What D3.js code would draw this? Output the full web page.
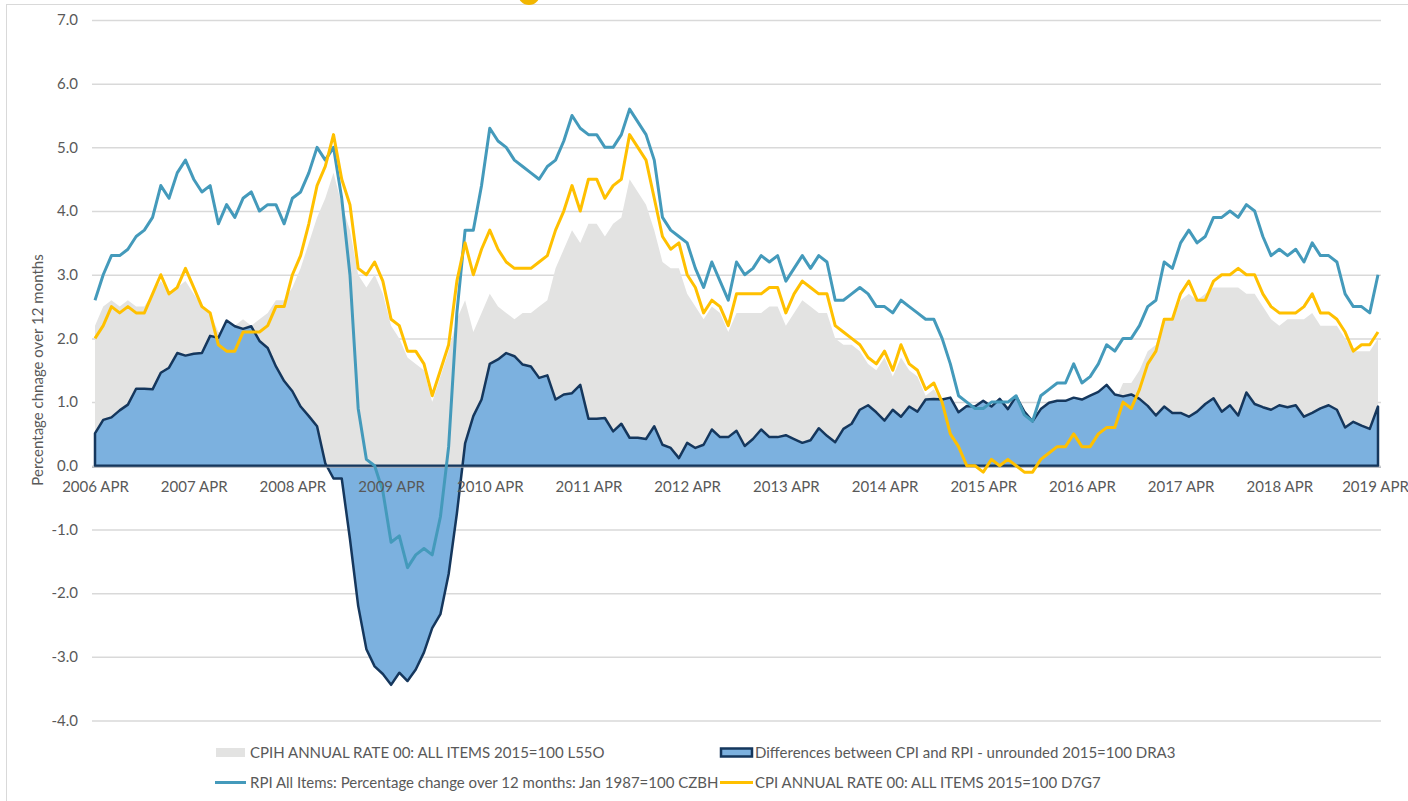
<!DOCTYPE html>
<html lang="en">
<head>
<meta charset="UTF-8">
<title>CPI, CPIH and RPI annual rates</title>
<script src="https://d3js.org/d3.v7.min.js"></script>
<style>
    body { margin: 0; background: #fff; }
    text { font-family: Lato, "Open Sans", sans-serif; fill: #595959; }
    .grid line { stroke: #d9d9d9; stroke-width: 1.5px; }
    .grid path { display: none; }
    .xaxis path, .xaxis line { display: none; }
    .legend text { font-size: 15px; }
</style>
</head>
<body>
<script>
// monthly categories, 2006 APR .. 2019 APR
const months = d3.timeMonth.range(new Date(2006, 3, 1), new Date(2019, 4, 1));
const xLabels = ["2006 APR", "2007 APR", "2008 APR", "2009 APR", "2010 APR", "2011 APR", "2012 APR",
    "2013 APR", "2014 APR", "2015 APR", "2016 APR", "2017 APR", "2018 APR", "2019 APR"];
const yTicks = [-4, -3, -2, -1, 0, 1, 2, 3, 4, 5, 6, 7];

// CPIH annual rate (grey area)
const cpih = [
    2.2, 2.5, 2.6, 2.5, 2.6, 2.5, 2.5, 2.7, 2.9,
    2.7, 2.8, 2.9, 2.7, 2.5, 2.4, 2.1, 2.1, 2.2, 2.3, 2.2, 2.3,
    2.4, 2.6, 2.6, 2.8, 3.1, 3.5, 3.9, 4.2, 4.6, 4.1, 3.7, 3.0,
    2.8, 3.0, 2.7, 2.2, 2.0, 1.7, 1.6, 1.5, 1.0, 1.4, 1.8, 2.3,
    2.6, 2.1, 2.4, 2.7, 2.5, 2.4, 2.3, 2.4, 2.4, 2.5, 2.6, 3.1,
    3.4, 3.7, 3.5, 3.8, 3.8, 3.6, 3.8, 3.9, 4.5, 4.3, 4.1, 3.7,
    3.2, 3.1, 3.1, 2.7, 2.5, 2.3, 2.5, 2.4, 2.1, 2.4, 2.4, 2.4,
    2.4, 2.5, 2.5, 2.2, 2.4, 2.6, 2.5, 2.4, 2.4, 2.0, 1.9, 1.9,
    1.8, 1.6, 1.5, 1.7, 1.4, 1.7, 1.5, 1.4, 1.1, 1.2, 1.0, 0.7,
    0.5, 0.3, 0.3, 0.2, 0.4, 0.3, 0.4, 0.4, 0.3, 0.3, 0.5, 0.6,
    0.6, 0.7, 0.9, 0.7, 0.7, 0.8, 0.9, 1.0, 1.3, 1.3, 1.5, 1.8,
    1.9, 2.3, 2.3, 2.6, 2.7, 2.6, 2.7, 2.8, 2.8, 2.8, 2.8, 2.7,
    2.7, 2.5, 2.3, 2.2, 2.3, 2.3, 2.3, 2.4, 2.2, 2.2, 2.2, 2.0,
    1.8, 1.8, 1.8, 2.0
];

// Differences between CPI and RPI, unrounded (blue area)
const diff = [
    0.51, 0.72, 0.76, 0.87, 0.96, 1.21, 1.21, 1.20, 1.46,
    1.54, 1.77, 1.73, 1.76, 1.77, 2.04, 2.01, 2.28, 2.19, 2.15, 2.19, 1.96,
    1.85, 1.56, 1.33, 1.17, 0.93, 0.78, 0.62, 0.04, -0.20, -0.20, -1.15, -2.20,
    -2.88, -3.15, -3.27, -3.44, -3.25, -3.38, -3.20, -2.93, -2.55, -2.33, -1.70, -0.75,
    0.35, 0.78, 1.04, 1.60, 1.67, 1.77, 1.72, 1.59, 1.56, 1.38, 1.42, 1.04,
    1.12, 1.14, 1.27, 0.74, 0.74, 0.75, 0.54, 0.66, 0.44, 0.44, 0.42, 0.62,
    0.33, 0.28, 0.12, 0.36, 0.28, 0.33, 0.57, 0.45, 0.45, 0.55, 0.31, 0.42,
    0.57, 0.45, 0.45, 0.48, 0.42, 0.36, 0.40, 0.59, 0.47, 0.37, 0.58, 0.66,
    0.88, 0.95, 0.84, 0.71, 0.88, 0.77, 0.93, 0.85, 1.04, 1.05, 1.04, 1.07,
    0.84, 0.94, 0.93, 1.02, 0.93, 1.05, 0.89, 1.09, 0.85, 0.70, 0.89, 0.99,
    1.02, 1.02, 1.07, 1.04, 1.10, 1.16, 1.27, 1.12, 1.09, 1.12, 1.05, 0.94,
    0.79, 0.93, 0.83, 0.83, 0.77, 0.85, 0.97, 1.06, 0.85, 0.95, 0.79, 1.15,
    0.97, 0.92, 0.88, 0.95, 0.92, 0.95, 0.77, 0.83, 0.90, 0.95, 0.88, 0.60,
    0.69, 0.63, 0.58, 0.93
];

// RPI all items, % change over 12 months
const rpi = [
    2.6, 3.0, 3.3, 3.3, 3.4, 3.6, 3.7, 3.9, 4.4,
    4.2, 4.6, 4.8, 4.5, 4.3, 4.4, 3.8, 4.1, 3.9, 4.2, 4.3, 4.0,
    4.1, 4.1, 3.8, 4.2, 4.3, 4.6, 5.0, 4.8, 5.0, 4.2, 3.0, 0.9,
    0.1, 0.0, -0.4, -1.2, -1.1, -1.6, -1.4, -1.3, -1.4, -0.8, 0.3, 2.4,
    3.7, 3.7, 4.4, 5.3, 5.1, 5.0, 4.8, 4.7, 4.6, 4.5, 4.7, 4.8,
    5.1, 5.5, 5.3, 5.2, 5.2, 5.0, 5.0, 5.2, 5.6, 5.4, 5.2, 4.8,
    3.9, 3.7, 3.6, 3.5, 3.1, 2.8, 3.2, 2.9, 2.6, 3.2, 3.0, 3.1,
    3.3, 3.2, 3.3, 2.9, 3.1, 3.3, 3.1, 3.3, 3.2, 2.6, 2.6, 2.7,
    2.8, 2.7, 2.5, 2.5, 2.4, 2.6, 2.5, 2.4, 2.3, 2.3, 2.0, 1.6,
    1.1, 1.0, 0.9, 0.9, 1.0, 1.0, 1.0, 1.1, 0.8, 0.7, 1.1, 1.2,
    1.3, 1.3, 1.6, 1.3, 1.4, 1.6, 1.9, 1.8, 2.0, 2.0, 2.2, 2.5,
    2.6, 3.2, 3.1, 3.5, 3.7, 3.5, 3.6, 3.9, 3.9, 4.0, 3.9, 4.1,
    4.0, 3.6, 3.3, 3.4, 3.3, 3.4, 3.2, 3.5, 3.3, 3.3, 3.2, 2.7,
    2.5, 2.5, 2.4, 3.0
];

// CPI annual rate
const cpi = [
    2.0, 2.2, 2.5, 2.4, 2.5, 2.4, 2.4, 2.7, 3.0,
    2.7, 2.8, 3.1, 2.8, 2.5, 2.4, 1.9, 1.8, 1.8, 2.1, 2.1, 2.1,
    2.2, 2.5, 2.5, 3.0, 3.3, 3.8, 4.4, 4.7, 5.2, 4.5, 4.1, 3.1,
    3.0, 3.2, 2.9, 2.3, 2.2, 1.8, 1.8, 1.6, 1.1, 1.5, 1.9, 2.9,
    3.5, 3.0, 3.4, 3.7, 3.4, 3.2, 3.1, 3.1, 3.1, 3.2, 3.3, 3.7,
    4.0, 4.4, 4.0, 4.5, 4.5, 4.2, 4.4, 4.5, 5.2, 5.0, 4.8, 4.2,
    3.6, 3.4, 3.5, 3.0, 2.8, 2.4, 2.6, 2.5, 2.2, 2.7, 2.7, 2.7,
    2.7, 2.8, 2.8, 2.4, 2.7, 2.9, 2.8, 2.7, 2.7, 2.2, 2.1, 2.0,
    1.9, 1.7, 1.6, 1.8, 1.5, 1.9, 1.6, 1.5, 1.2, 1.3, 1.0, 0.5,
    0.3, 0.0, 0.0, -0.1, 0.1, 0.0, 0.1, 0.0, -0.1, -0.1, 0.1, 0.2,
    0.3, 0.3, 0.5, 0.3, 0.3, 0.5, 0.6, 0.6, 1.0, 0.9, 1.2, 1.6,
    1.8, 2.3, 2.3, 2.7, 2.9, 2.6, 2.6, 2.9, 3.0, 3.0, 3.1, 3.0,
    3.0, 2.7, 2.5, 2.4, 2.4, 2.4, 2.5, 2.7, 2.4, 2.4, 2.3, 2.1,
    1.8, 1.9, 1.9, 2.1
];

const width = 1408, height = 801;
const colors = { cpih: "#e3e3e2", diffFill: "#7cb1df", diffLine: "#15375d", rpi: "#449abb", cpi: "#ffc000" };

const svg = d3.select("body").append("svg")
    .attr("width", width)
    .attr("height", height);

// outer chart frame
svg.append("rect")
    .attr("x", 6.5).attr("y", 4.5)
    .attr("width", 1500).attr("height", 900)
    .attr("fill", "none").attr("stroke", "#d9d9d9");

// bit of something yellow cut off above the frame
svg.append("circle")
    .attr("cx", 529).attr("cy", -6).attr("r", 11)
    .attr("fill", "#f2b600");

const x = d3.scalePoint()
    .domain(months.map((d, i) => i))
    .range([95, 1378]);

const y = d3.scaleLinear()
    .domain([-4, 7])
    .range([720.5, 20]);

// gridlines and y labels
const gridLeft = 92, gridRight = 1381;
svg.append("g")
    .attr("class", "grid")
    .attr("transform", `translate(${gridLeft},0)`)
    .call(d3.axisLeft(y)
        .tickValues(yTicks)
        .tickSize(-(gridRight - gridLeft))
        .tickPadding(14)
        .tickFormat(d => d.toFixed(1)))
    .selectAll("text")
    .style("font-size", "15px");

const area = d3.area().x((d, i) => x(i)).y0(y(0)).y1(d => y(d));

// CPIH grey area
svg.append("path")
    .datum(cpih)
    .attr("fill", colors.cpih)
    .attr("d", area);

// CPI - RPI difference area, outlined all round
svg.append("path")
    .datum(diff)
    .attr("fill", colors.diffFill)
    .attr("stroke", colors.diffLine)
    .attr("stroke-width", 2.5)
    .attr("stroke-linejoin", "round")
    .attr("d", area);

// horizontal axis line
svg.append("line")
    .attr("x1", gridLeft).attr("x2", gridRight)
    .attr("y1", y(0) + 1.5).attr("y2", y(0) + 1.5)
    .attr("stroke", "#a5a9b0").attr("stroke-width", 1.2);

const line = d3.line().x((d, i) => x(i)).y(d => y(d));

svg.append("path")
    .datum(rpi)
    .attr("fill", "none")
    .attr("stroke", colors.rpi)
    .attr("stroke-width", 3)
    .attr("stroke-linejoin", "round")
    .attr("d", line);

svg.append("path")
    .datum(cpi)
    .attr("fill", "none")
    .attr("stroke", colors.cpi)
    .attr("stroke-width", 3)
    .attr("stroke-linejoin", "round")
    .attr("d", line);

// category labels, one a year
const xAxis = svg.append("g")
    .attr("class", "xaxis")
    .attr("transform", `translate(0,${y(0)})`)
    .call(d3.axisBottom(x)
        .tickValues(d3.range(0, months.length, 12))
        .tickSize(0)
        .tickPadding(16)
        .tickFormat((d, i) => xLabels[i]));
xAxis.selectAll("text").style("font-size", "15px");
// keep the last label inside the window
xAxis.selectAll("text").filter((d, i, n) => i === n.length - 1).attr("dx", -3);

// axis title
svg.append("text")
    .attr("transform", "translate(43,370) rotate(-90)")
    .attr("text-anchor", "middle")
    .style("font-size", "15px")
    .text("Percentage chnage over 12 months");

// legend
const legend = svg.append("g").attr("class", "legend");

legend.append("rect")
    .attr("x", 216).attr("y", 748).attr("width", 29).attr("height", 9)
    .attr("fill", colors.cpih);
legend.append("text").attr("x", 250).attr("y", 757.5)
    .text("CPIH ANNUAL RATE 00: ALL ITEMS 2015=100 L55O");

legend.append("rect")
    .attr("x", 721).attr("y", 748.5).attr("width", 31).attr("height", 8)
    .attr("fill", colors.diffFill)
    .attr("stroke", colors.diffLine).attr("stroke-width", 2.5);
legend.append("text").attr("x", 755).attr("y", 757.5)
    .text("Differences between CPI and RPI - unrounded 2015=100 DRA3");

legend.append("line")
    .attr("x1", 215).attr("x2", 246).attr("y1", 782.5).attr("y2", 782.5)
    .attr("stroke", colors.rpi).attr("stroke-width", 3);
legend.append("text").attr("x", 250).attr("y", 788)
    .text("RPI All Items: Percentage change over 12 months: Jan 1987=100 CZBH");

legend.append("line")
    .attr("x1", 720).attr("x2", 753).attr("y1", 782.5).attr("y2", 782.5)
    .attr("stroke", colors.cpi).attr("stroke-width", 3);
legend.append("text").attr("x", 755).attr("y", 788)
    .text("CPI ANNUAL RATE 00: ALL ITEMS 2015=100 D7G7");
</script>
</body>
</html>
